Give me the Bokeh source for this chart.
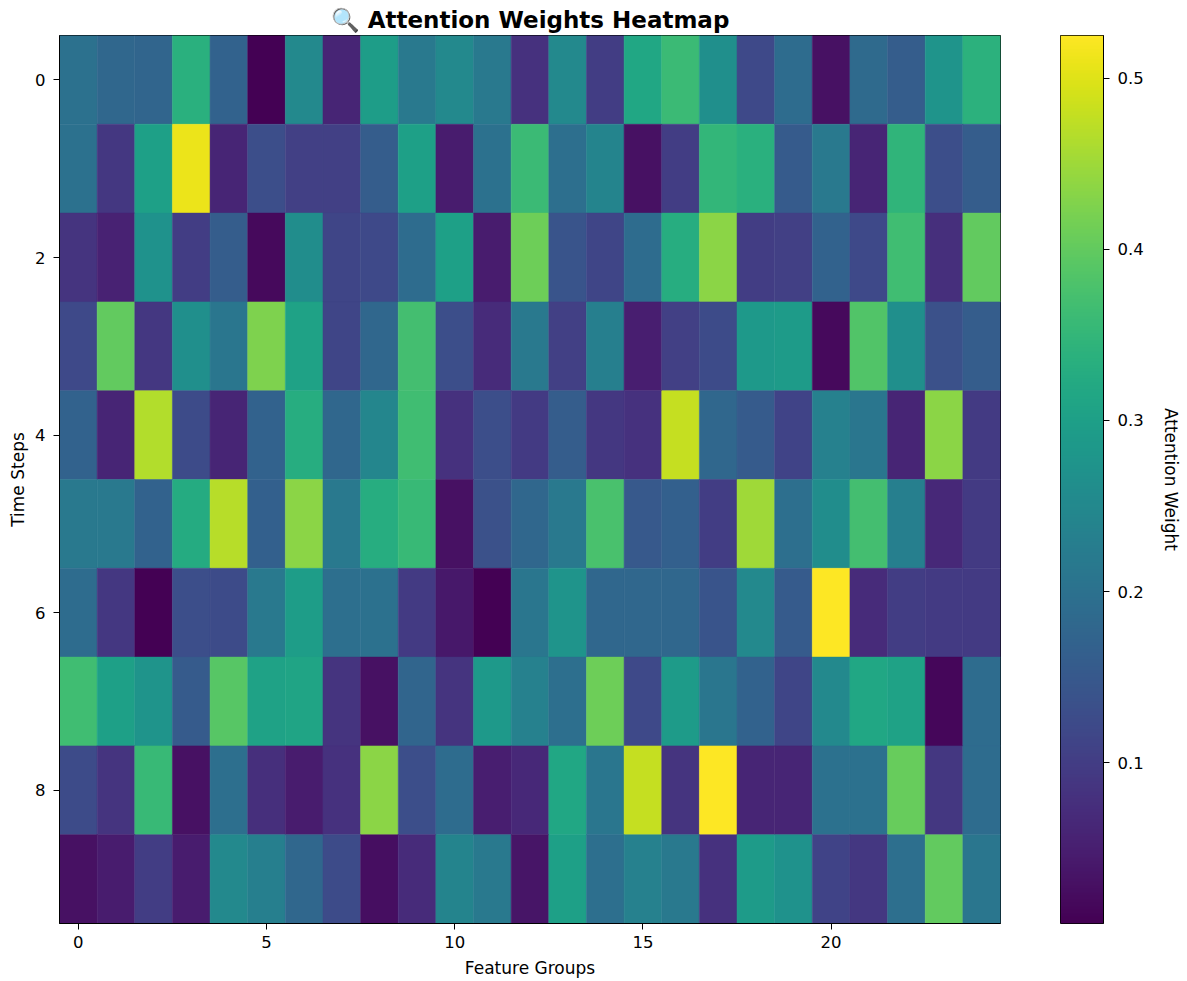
import numpy as np
from bokeh.plotting import figure
from bokeh.models import Range1d, LinearColorMapper, FixedTicker, ColumnDataSource
from bokeh.palettes import Viridis256
from bokeh.layouts import row
from bokeh.transform import transform
from bokeh.embed import file_html
from bokeh.resources import INLINE

# ---- data ----
time_steps = list(range(10))
feature_groups = list(range(25))
x_ticks = [0, 5, 10, 15, 20]
y_ticks = [0, 2, 4, 6, 8]
cbar_ticks = [0.1, 0.2, 0.3, 0.4, 0.5]

t0 = [0.200, 0.180, 0.175, 0.335, 0.170, 0.006, 0.250, 0.060, 0.295, 0.215, 0.250, 0.215, 0.080,
      0.250, 0.100, 0.315, 0.360, 0.265, 0.120, 0.190, 0.030, 0.185, 0.160, 0.275, 0.340]
t1 = [0.200, 0.090, 0.300, 0.510, 0.060, 0.130, 0.105, 0.105, 0.160, 0.300, 0.045, 0.200, 0.360,
      0.195, 0.240, 0.030, 0.100, 0.350, 0.335, 0.155, 0.215, 0.060, 0.345, 0.130, 0.160]
t2 = [0.085, 0.055, 0.270, 0.100, 0.160, 0.020, 0.260, 0.115, 0.120, 0.190, 0.300, 0.045, 0.410,
      0.140, 0.115, 0.190, 0.330, 0.435, 0.100, 0.105, 0.170, 0.120, 0.365, 0.075, 0.400]
t3 = [0.120, 0.400, 0.090, 0.265, 0.210, 0.425, 0.305, 0.115, 0.180, 0.370, 0.130, 0.070, 0.215,
      0.105, 0.230, 0.050, 0.105, 0.125, 0.285, 0.290, 0.020, 0.385, 0.265, 0.135, 0.160]
t4 = [0.170, 0.060, 0.465, 0.125, 0.060, 0.170, 0.330, 0.180, 0.245, 0.365, 0.080, 0.130, 0.095,
      0.160, 0.090, 0.080, 0.480, 0.180, 0.155, 0.110, 0.235, 0.210, 0.060, 0.435, 0.095]
t5 = [0.215, 0.215, 0.170, 0.325, 0.470, 0.165, 0.435, 0.215, 0.330, 0.355, 0.030, 0.135, 0.180,
      0.215, 0.375, 0.150, 0.165, 0.100, 0.450, 0.195, 0.260, 0.370, 0.230, 0.065, 0.095]
t6 = [0.190, 0.090, 0.006, 0.130, 0.125, 0.215, 0.295, 0.195, 0.200, 0.095, 0.040, 0.006, 0.210,
      0.275, 0.180, 0.180, 0.180, 0.140, 0.250, 0.155, 0.525, 0.070, 0.100, 0.095, 0.095]
t7 = [0.365, 0.300, 0.275, 0.155, 0.390, 0.305, 0.310, 0.085, 0.030, 0.175, 0.085, 0.285, 0.235,
      0.195, 0.410, 0.120, 0.290, 0.210, 0.170, 0.115, 0.250, 0.315, 0.305, 0.015, 0.190]
t8 = [0.125, 0.085, 0.355, 0.030, 0.195, 0.075, 0.045, 0.080, 0.435, 0.130, 0.190, 0.050, 0.065,
      0.315, 0.210, 0.480, 0.085, 0.525, 0.060, 0.060, 0.200, 0.200, 0.405, 0.090, 0.190]
t9 = [0.030, 0.045, 0.100, 0.045, 0.250, 0.230, 0.180, 0.125, 0.025, 0.070, 0.240, 0.215, 0.035,
      0.300, 0.195, 0.235, 0.215, 0.080, 0.290, 0.270, 0.110, 0.090, 0.195, 0.400, 0.210]

weights = [t0, t1, t2, t3, t4, t5, t6, t7, t8, t9]

xs, ys, vs = [], [], []
for i, r in enumerate(weights):
    for j, v in enumerate(r):
        xs.append(feature_groups[j])
        ys.append(time_steps[i])
        vs.append(v)

low, high = min(vs), max(vs)
mapper = LinearColorMapper(palette=Viridis256, low=low, high=high)
src = ColumnDataSource(dict(x=xs, y=ys, w=vs))

FONT = "DejaVu Sans"
TICK_SIZE = "16.5px"
LABEL_SIZE = "17px"

p = figure(width=1010, height=981,
           x_range=Range1d(-0.5, 24.5), y_range=Range1d(9.5, -0.5),
           output_backend="svg", toolbar_location=None,
           min_border_left=59, min_border_right=10, min_border_top=35, min_border_bottom=58,
           title="🔍 Attention Weights Heatmap")
p.rect(x="x", y="y", width=1, height=1, source=src,
       fill_color=transform("w", mapper), line_color=transform("w", mapper), line_width=0.5)

p.title.align = "center"
p.title.text_font = FONT
p.title.text_font_size = "23px"
p.title.text_font_style = "bold"
p.title.text_color = "black"
p.title.standoff = 6
p.title.offset = 0

p.xaxis.ticker = FixedTicker(ticks=x_ticks)
p.yaxis.ticker = FixedTicker(ticks=y_ticks)
p.xaxis.axis_label = "Feature Groups"
p.yaxis.axis_label = "Time Steps"
for ax in (p.xaxis, p.yaxis):
    ax.major_tick_out = 6
    ax.major_tick_in = 0
    ax.minor_tick_line_color = None
    ax.major_tick_line_color = "black"
    ax.axis_line_color = "black"
    ax.major_label_text_font = FONT
    ax.major_label_text_font_size = TICK_SIZE
    ax.major_label_text_color = "black"
    ax.axis_label_text_font = FONT
    ax.axis_label_text_font_size = LABEL_SIZE
    ax.axis_label_text_font_style = "normal"
    ax.axis_label_text_color = "black"
p.yaxis.major_label_standoff = 8
p.xaxis.major_label_standoff = 6
p.xaxis.axis_label_standoff = 7
p.yaxis.axis_label_standoff = 4
p.grid.visible = False
p.outline_line_color = "black"
p.outline_line_alpha = 1

# colour bar as its own small figure
p2 = figure(width=177, height=981,
            x_range=Range1d(0, 1), y_range=Range1d(low, high),
            y_axis_location="right",
            output_backend="svg", toolbar_location=None,
            min_border_left=50, min_border_right=84, min_border_top=35, min_border_bottom=58)
ramp = np.linspace(low, high, 256).reshape(256, 1)
p2.image(image=[ramp], x=0, y=low, dw=1, dh=high - low, color_mapper=mapper)
p2.xaxis.visible = False
p2.grid.visible = False
p2.outline_line_color = "black"
ax = p2.yaxis
ax.ticker = FixedTicker(ticks=cbar_ticks)
ax.axis_label = "Attention Weight"
ax.major_tick_out = 6
ax.major_tick_in = 0
ax.minor_tick_line_color = None
ax.axis_line_color = "black"
ax.major_label_text_font = FONT
ax.major_label_text_font_size = TICK_SIZE
ax.major_label_text_color = "black"
ax.major_label_standoff = 8
ax.axis_label_text_font = FONT
ax.axis_label_text_font_size = LABEL_SIZE
ax.axis_label_text_font_style = "normal"
ax.axis_label_text_color = "black"
ax.axis_label_standoff = 14

layout = row(p, p2)
open("out.html", "w").write(file_html(layout, INLINE))
